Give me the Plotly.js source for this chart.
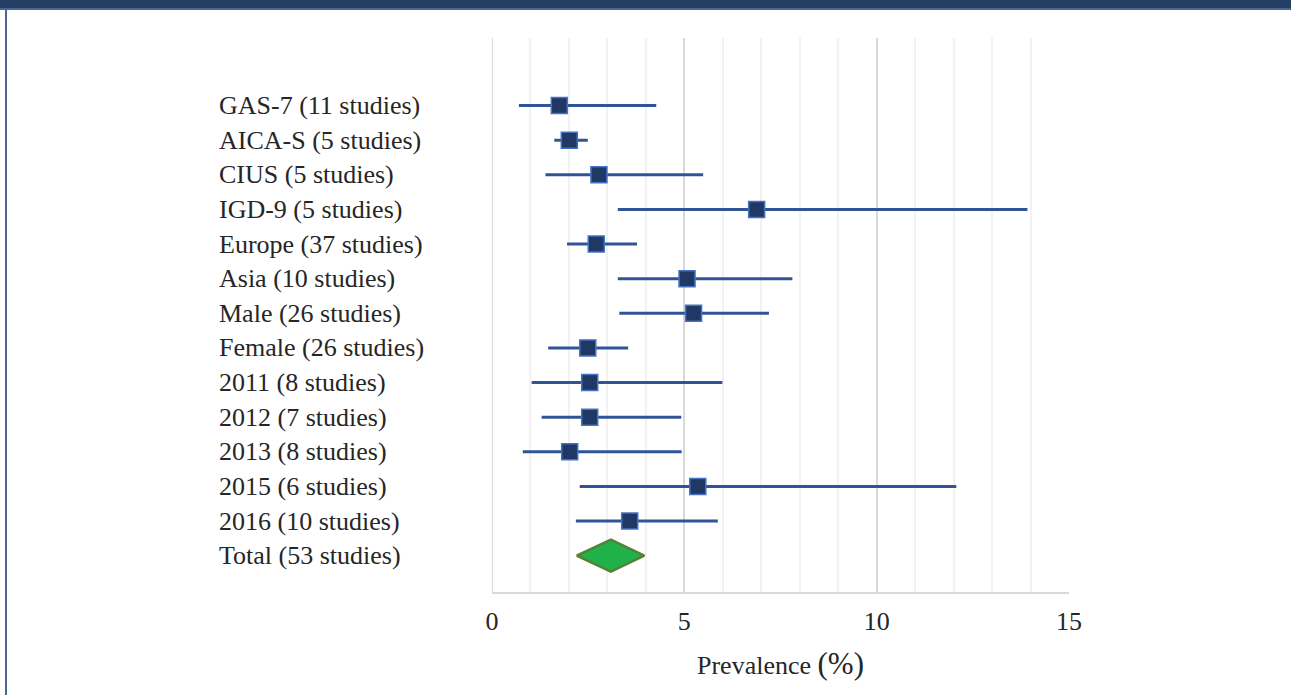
<!DOCTYPE html>
<html>
<head>
<meta charset="utf-8">
<script src="https://cdn.plot.ly/plotly-3.0.1.min.js"></script>
<style>
  html, body { margin: 0; padding: 0; background: #ffffff; }
  #chart { width: 1291px; height: 695px; position: relative; }
  #topband { position: absolute; left: 0; top: 0; width: 1291px; height: 8px; background: #243e64; pointer-events: none; }
  #topline { position: absolute; left: 0; top: 8px; width: 1291px; height: 2px; background: #4a6794; pointer-events: none; }
  #leftline { position: absolute; left: 5px; top: 8px; width: 2px; height: 687px; background: #4a6794; pointer-events: none; }
</style>
</head>
<body>
<div id="chart"></div>
<div id="topband"></div>
<div id="topline"></div>
<div id="leftline"></div>
<script>
// Subgroup labels (top to bottom)
const categories = [
  "GAS-7 (11 studies)", "AICA-S (5 studies)", "CIUS (5 studies)", "IGD-9 (5 studies)",
  "Europe (37 studies)", "Asia (10 studies)", "Male (26 studies)", "Female (26 studies)",
  "2011 (8 studies)", "2012 (7 studies)", "2013 (8 studies)", "2015 (6 studies)",
  "2016 (10 studies)"
];
// Point estimates and confidence limits (%)
const estimate = [1.75, 2.01, 2.78, 6.88, 2.71, 5.07, 5.24, 2.49, 2.54, 2.54, 2.02, 5.35, 3.58];
const lower    = [0.70, 1.62, 1.39, 3.27, 1.95, 3.27, 3.31, 1.46, 1.03, 1.29, 0.80, 2.28, 2.18];
const upper    = [4.27, 2.49, 5.49, 13.92, 3.77, 7.81, 7.20, 3.54, 5.99, 4.92, 4.93, 12.07, 5.87];
// Pooled total
const totalLabel = "Total (53 studies)";
const totalEstimate = 3.09;
const totalLower = 2.20;
const totalUpper = 3.96;
// Axis ticks
const xTicks = [0, 5, 10, 15];

const rows = categories.map((_, i) => i);
const totalRow = categories.length;
const halfH = 0.46;

const serif = "Liberation Serif, Times New Roman, serif";

const traces = [
  {
    type: "scatter",
    mode: "markers",
    x: estimate,
    y: rows,
    marker: { symbol: "square", size: 16, color: "#1f3864", line: { color: "#4472c4", width: 1.5 } },
    error_x: {
      type: "data",
      symmetric: false,
      array: estimate.map((v, i) => upper[i] - v),
      arrayminus: estimate.map((v, i) => v - lower[i]),
      color: "#2f5597",
      thickness: 3,
      width: 0
    },
    hoverinfo: "x+y",
    showlegend: false
  },
  {
    type: "scatter",
    mode: "lines",
    x: [totalLower, totalEstimate, totalUpper, totalEstimate, totalLower],
    y: [totalRow, totalRow - halfH, totalRow, totalRow + halfH, totalRow],
    fill: "toself",
    fillcolor: "#21b14b",
    line: { color: "#548235", width: 2.5 },
    hoverinfo: "skip",
    showlegend: false
  }
];

const allLabels = categories.concat([totalLabel]);
const annotations = allLabels.map((t, i) => ({
  text: t,
  xref: "paper",
  yref: "y",
  x: -0.4772,
  y: i,
  xanchor: "left",
  yanchor: "middle",
  showarrow: false,
  font: { family: serif, size: 26, color: "#262626" }
}));

const layout = {
  width: 1291,
  height: 695,
  margin: { l: 491.5, r: 222.3, t: 38, b: 103 },
  paper_bgcolor: "rgba(0,0,0,0)",
  plot_bgcolor: "#ffffff",
  font: { family: serif, size: 26, color: "#262626" },
  xaxis: {
    range: [0, 15],
    tickvals: xTicks,
    ticktext: xTicks.map(String),
    ticks: "",
    ticklabelstandoff: 5,
    showgrid: true,
    gridcolor: "#d9d9d9",
    gridwidth: 2,
    minor: { dtick: 1, showgrid: true, gridcolor: "#f2f2f2", gridwidth: 2 },
    zeroline: false,
    showline: true,
    linecolor: "#d9d9d9",
    linewidth: 2,
    tickfont: { family: serif, size: 26, color: "#262626" },
    title: {
      text: 'Prevalence <span style="font-size:31px">(%)</span>',
      font: { family: serif, size: 26, color: "#262626" },
      standoff: 21
    },
    fixedrange: true
  },
  yaxis: {
    range: [14.05, -1.95],
    showticklabels: false,
    ticks: "",
    showgrid: false,
    zeroline: false,
    showline: false,
    fixedrange: true
  },
  annotations: annotations,
  shapes: [
    { type: "line", xref: "x", yref: "paper", x0: 0, x1: 0, y0: 0, y1: 1, line: { color: "#d9d9d9", width: 2 }, layer: "below" }
  ]
};

Plotly.newPlot("chart", traces, layout, { displayModeBar: false, staticPlot: true });
</script>
</body>
</html>
